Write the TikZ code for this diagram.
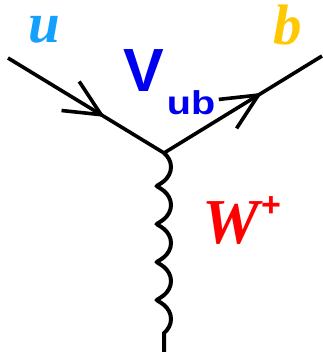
\documentclass[tikz,border=0pt]{standalone}
\usepackage{fontspec}
\setmainfont{Liberation Serif}
\setsansfont{Liberation Sans}
\usetikzlibrary{arrows.meta, positioning, decorations.markings, decorations.pathmorphing}
\definecolor{ucol}{RGB}{20,160,255}
\definecolor{bcol}{RGB}{255,200,0}
\definecolor{vcol}{RGB}{0,0,240}
\definecolor{wcol}{RGB}{255,0,0}
\tikzset{
  quark/.style={line width=3.6pt, postaction={decorate},
                decoration={markings, mark=at position #1 with
                {\arrow{Straight Barb[length=36pt, width=34pt, line width=3.6pt]}}}},
  boson/.style={line width=4pt, decorate,
                decoration={coil, amplitude=7pt, segment length=38pt, aspect=0.65}},
  flavour/.style={inner sep=0pt, anchor=base, font=\fontsize{57}{57}\selectfont\bfseries\itshape},
  ckm/.style={inner sep=0pt, vcol, font=\fontsize{61}{61}\selectfont\sffamily\bfseries},
  wlabel/.style={inner sep=0pt, wcol, font=\fontsize{64}{64}\selectfont\bfseries\itshape},
}

\begin{document}
\begin{tikzpicture}[x=1pt, y=-1pt]
    \useasboundingbox (0,0) rectangle (322,352);
    % Vertex and line ends
    \coordinate (ustart) at (8,58);
    \coordinate (vtx)    at (164,153);
    \coordinate (bend)   at (322,56);
    \coordinate (wend)   at (164,352);
    % Quark lines
    \draw[quark=0.62] (ustart) -- (vtx);
    \draw[quark=0.62] (vtx) -- (bend);
    % W boson
    \draw[boson] (vtx) -- (wend);
    % Labels
    \node[flavour, ucol] (uq) at (44,43) {u};
    \node[flavour, bcol] (bq) at (288,45) {b};
    \node[ckm, anchor=base west] (vub) at (123,92)
      {V\hspace{3pt}\raisebox{-23pt}{\fontsize{33}{33}\selectfont\scalebox{1.2}[1]{ub}}};
    \node[wlabel, anchor=base west] (wb) at (202,243)
      {W\hspace{2pt}\raisebox{27pt}{\fontsize{34}{34}\selectfont\sffamily\bfseries\upshape +}};
\end{tikzpicture}
\end{document}
